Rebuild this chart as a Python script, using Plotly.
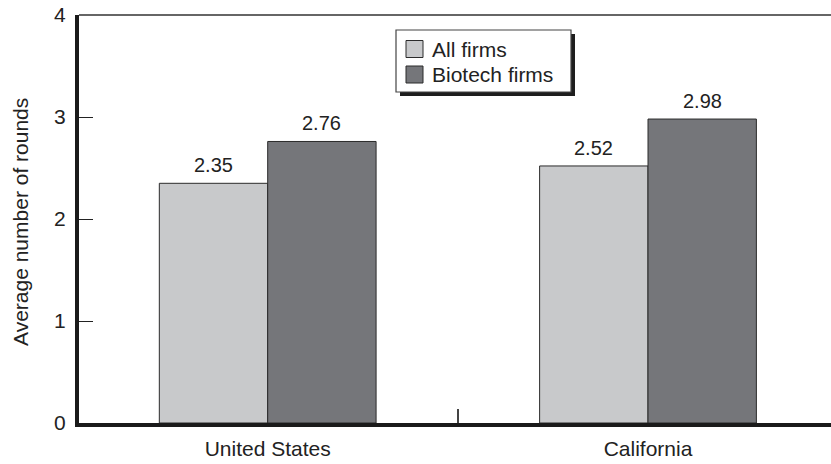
import plotly.graph_objects as go

# Average number of financing rounds, by region and firm type
regions = ["United States", "California"]
all_firms = [2.35, 2.52]
biotech_firms = [2.76, 2.98]
series_names = ["All firms", "Biotech firms"]
y_ticks = [0, 1, 2, 3, 4]

LIGHT = "#c8c9cb"
DARK = "#75767a"
EDGE = "#2b2b2b"
TEXT = "#222222"
FONT = "Liberation Sans, Arial, Helvetica, sans-serif"

W, H = 831, 464
ML, MR, MT, MB = 79, 0, 15, 41
PW, PH = W - ML - MR, H - MT - MB

BAR_W = 0.285
x_pos = list(range(len(regions)))


def px_x(px):
    """Pixel x -> paper x."""
    return (px - ML) / PW


def px_y(py):
    """Pixel y -> paper y."""
    return (H - MB - py) / PH


fig = go.Figure()
for vals, name, color, off in [
    (all_firms, series_names[0], LIGHT, -BAR_W),
    (biotech_firms, series_names[1], DARK, 0.0),
]:
    fig.add_trace(go.Bar(
        x=x_pos, y=vals, name=name, width=BAR_W, offset=off,
        marker=dict(color=color, line=dict(color=EDGE, width=1)),
        showlegend=False,
    ))
    for xi, v in zip(x_pos, vals):
        fig.add_annotation(
            x=xi + off + BAR_W / 2, y=v, xref="x", yref="y",
            text=f"{v:.2f}", showarrow=False, yanchor="bottom", yshift=5,
            font=dict(size=20, color=TEXT, family=FONT),
        )

# frame line along the top of the plot
fig.add_shape(type="line", xref="paper", yref="paper", x0=0, x1=1, y0=1, y1=1,
              line=dict(color="#333333", width=1.5))

# legend box with drop shadow
lx0, lx1, ly0, ly1 = 396, 571, 30, 92
fig.add_shape(type="rect", xref="paper", yref="paper",
              x0=px_x(lx0 + 4), x1=px_x(lx1 + 4), y0=px_y(ly1 + 4), y1=px_y(ly0 + 4),
              fillcolor="#1e1e1e", line=dict(width=0), layer="above")
fig.add_shape(type="rect", xref="paper", yref="paper",
              x0=px_x(lx0), x1=px_x(lx1), y0=px_y(ly1), y1=px_y(ly0),
              fillcolor="white", line=dict(color="#444444", width=1.2), layer="above")
for row, (name, color) in enumerate(zip(series_names, [LIGHT, DARK])):
    cy = 49 + row * 25.5
    fig.add_shape(type="rect", xref="paper", yref="paper",
                  x0=px_x(406), x1=px_x(423), y0=px_y(cy + 8.5), y1=px_y(cy - 8.5),
                  fillcolor=color, line=dict(color=EDGE, width=1), layer="above")
    fig.add_annotation(x=px_x(430), y=px_y(cy), xref="paper", yref="paper",
                       text=name, showarrow=False, xanchor="left", yanchor="middle",
                       font=dict(size=21, color=TEXT, family=FONT))

fig.add_annotation(x=px_x(20), y=px_y(222), xref="paper", yref="paper",
                   text="Average number of rounds", textangle=-90, showarrow=False,
                   xanchor="center", yanchor="middle",
                   font=dict(size=21, color=TEXT, family=FONT))

fig.update_layout(
    width=W, height=H,
    margin=dict(l=ML, r=MR, t=MT, b=MB, pad=0),
    paper_bgcolor="white", plot_bgcolor="white",
    font=dict(family=FONT, size=21, color=TEXT),
    barmode="overlay",
    xaxis=dict(
        range=[-0.4962, 1.4812], tickvals=x_pos, ticktext=regions,
        ticks="", showgrid=False, zeroline=False,
        showline=True, linewidth=4, linecolor="#1a1a1a",
        tickfont=dict(size=21, color=TEXT), ticklabelstandoff=4,
        minor=dict(tickvals=[0.5], ticks="inside", ticklen=14,
                   tickwidth=1.5, tickcolor="#444444", showgrid=False),
    ),
    yaxis=dict(
        range=[0, 4], tickvals=y_ticks, ticks="inside", ticklen=14,
        tickwidth=1.2, tickcolor="#222222", showgrid=False, zeroline=False,
        showline=True, linewidth=4, linecolor="#1a1a1a",
        tickfont=dict(size=21, color=TEXT), ticklabelstandoff=5,
    ),
)

fig.write_html("out.html")
